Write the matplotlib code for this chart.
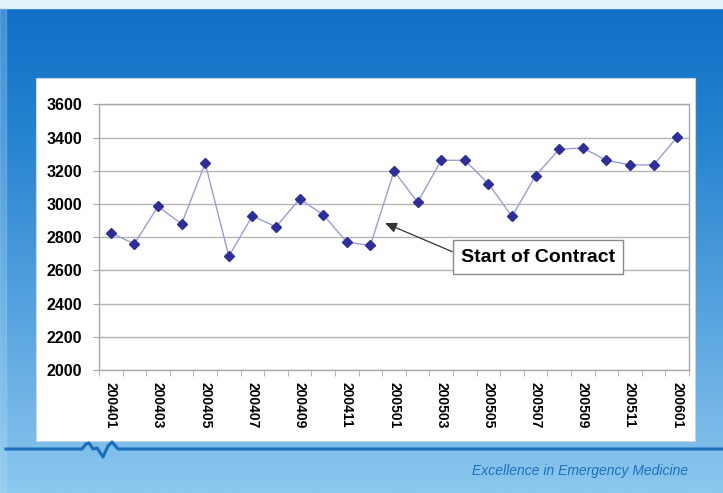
import numpy as np
import matplotlib
matplotlib.use("Agg")
import matplotlib.pyplot as plt
from matplotlib.colors import LinearSegmentedColormap
from matplotlib.patches import Rectangle

# monthly totals, Jan 2004 - Jan 2006
months = ["200401", "200402", "200403", "200404", "200405", "200406",
          "200407", "200408", "200409", "200410", "200411", "200412",
          "200501", "200502", "200503", "200504", "200505", "200506",
          "200507", "200508", "200509", "200510", "200511", "200512",
          "200601"]
volume = [2825, 2760, 2985, 2880, 3245, 2685, 2928, 2862, 3030, 2935,
          2770, 2750, 3198, 3010, 3263, 3263, 3122, 2925, 3170, 3330,
          3337, 3263, 3235, 3235, 3403]
yticks = [2000, 2200, 2400, 2600, 2800, 3000, 3200, 3400, 3600]
note = "Start of Contract"
tagline = "Excellence in Emergency Medicine"

W, H = 723, 493
fig = plt.figure(figsize=(W / 100, H / 100), dpi=100)

# slide background in pixel coordinates
bg = fig.add_axes([0, 0, 1, 1])
bg.set_xlim(0, W)
bg.set_ylim(H, 0)
bg.axis("off")
cmap = LinearSegmentedColormap.from_list(
    "slide", [(0.0, "#1170c6"), (0.25, "#2482d0"), (0.55, "#4c9cdb"),
              (0.85, "#76b8e8"), (1.0, "#8cc8ef")])
grad = np.linspace(0, 1, 256).reshape(-1, 1)
bg.imshow(grad, cmap=cmap, extent=[0, W, H, 8], aspect="auto", zorder=0)
bg.add_patch(Rectangle((0, 0), W, 8, color="#e3f1fb", zorder=1))
bg.add_patch(Rectangle((0, 8), 6, H, color="#b5dcf5", alpha=0.3, zorder=1))

# white panel behind the chart
bg.add_patch(Rectangle((36, 78), 659, 363, facecolor="white",
                       edgecolor="#c8d4de", lw=0.8, zorder=2))

# rule with heartbeat blip
rx = [6, 82, 86, 89, 93, 97, 103, 108, 112, 118, W]
ry = [449, 449, 444, 443, 449, 448, 457, 446, 442, 449, 449]
bg.plot(rx, ry, color="#1a6db6", lw=2.2, zorder=3, solid_joinstyle="round")
bg.text(580, 471, tagline, color="#1b6fbb", fontsize=10,
        family="Liberation Sans", style="italic",
        ha="center", va="center", zorder=3)

# chart
ax = fig.add_axes([99 / W, (H - 370) / H, 590 / W, 265.7 / H])
ax.set_facecolor("white")
x = np.arange(len(months))
ax.plot(x, volume, color="#9b9dd6", lw=1.0, zorder=3)
ax.plot(x, volume, ls="none", marker="D", ms=5.5, color="#2e2e9a", zorder=4)

ax.set_xlim(-0.5, len(months) - 0.5)
ax.set_ylim(2000, 3600)
ax.set_yticks(yticks)
ax.yaxis.grid(True, color="#b5b5b5", lw=1.0)
ax.set_axisbelow(True)
for s in ax.spines.values():
    s.set_color("#a8a8a8")
    s.set_linewidth(1.0)

ax.set_xticks(x[::2])
ax.set_xticklabels(months[::2], rotation=-90, fontsize=10,
                   fontweight="bold", family="Liberation Sans")
ax.set_xticks(np.arange(-0.5, len(months)), minor=True)
ax.tick_params(axis="x", which="major", length=0, pad=9)
ax.tick_params(axis="x", which="minor", length=4, color="#a8a8a8")
ax.tick_params(axis="y", length=4, color="#a8a8a8", pad=8)
for lab in ax.get_yticklabels():
    lab.set_fontsize(11.5)
    lab.set_fontweight("bold")
    lab.set_family("Liberation Sans")

ax.annotate(note, xy=(11.62, 2885), xytext=(18.1, 2680),
            textcoords="data", ha="center", va="center",
            fontsize=14, fontweight="bold", family="Liberation Sans",
            bbox=dict(boxstyle="square,pad=0.42", fc="white", ec="#8a8a8a",
                      lw=1.0),
            arrowprops=dict(arrowstyle="-|>,head_length=0.5,head_width=0.22",
                            color="#333333", lw=0.9, relpos=(0, 0.6),
                            shrinkA=0, shrinkB=0),
            zorder=5)

fig.savefig("out.png", dpi=100)
